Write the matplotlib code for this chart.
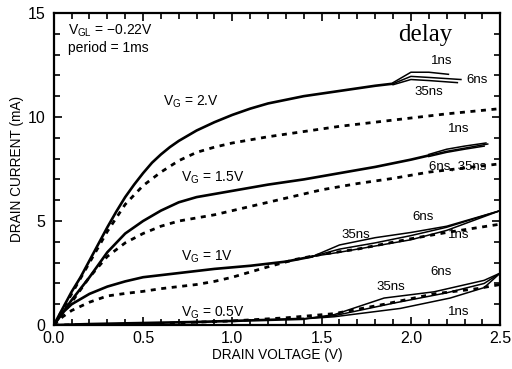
import matplotlib.pyplot as plt
from matplotlib.ticker import MultipleLocator

plt.rcParams['font.family'] = ['Liberation Sans', 'DejaVu Sans']
plt.rcParams['mathtext.default'] = 'regular'

# VG = 2 V, measured (common part, then the three delays)
vg2_v = [0, 0.05, 0.1, 0.15, 0.2, 0.25, 0.3, 0.35, 0.4, 0.45, 0.5, 0.55, 0.6, 0.65, 0.7, 0.75,
         0.8, 0.9, 1.0, 1.1, 1.2, 1.4, 1.6, 1.8, 1.9]
vg2_i = [0, 0.8, 1.6, 2.3, 3.1, 3.9, 4.7, 5.45, 6.15, 6.75, 7.3, 7.8, 8.2, 8.55, 8.85, 9.1,
         9.35, 9.75, 10.1, 10.4, 10.65, 11.0, 11.25, 11.5, 11.6]
vg2_tail_v = {'1ns': [1.9, 2.0, 2.1, 2.21],
              '6ns': [1.9, 2.0, 2.1, 2.28],
              '35ns': [1.9, 2.0, 2.1, 2.26]}
vg2_tail_i = {'1ns': [11.65, 12.15, 12.15, 12.05],
              '6ns': [11.6, 11.95, 11.9, 11.8],
              '35ns': [11.55, 11.8, 11.75, 11.65]}
vg2_dc_v = [0, 0.1, 0.2, 0.3, 0.4, 0.5, 0.6, 0.7, 0.8, 0.9, 1.0, 1.2, 1.4, 1.6, 1.8, 2.0, 2.2, 2.5]
vg2_dc_i = [0, 1.5, 3.0, 4.5, 5.8, 6.7, 7.35, 7.9, 8.3, 8.55, 8.75, 9.05, 9.3, 9.55, 9.75, 9.95, 10.15, 10.4]

# VG = 1.5 V
vg15_v = [0, 0.05, 0.1, 0.2, 0.3, 0.4, 0.5, 0.6, 0.7, 0.8, 0.9, 1.0, 1.2, 1.4, 1.6, 1.8, 2.0, 2.1]
vg15_i = [0, 0.6, 1.2, 2.3, 3.5, 4.4, 5.0, 5.5, 5.9, 6.15, 6.3, 6.45, 6.75, 7.0, 7.3, 7.6, 7.95, 8.15]
vg15_tail_v = {'1ns': [2.1, 2.2, 2.3, 2.42],
               '6ns': [2.1, 2.2, 2.3, 2.43],
               '35ns': [2.1, 2.2, 2.3, 2.41]}
vg15_tail_i = {'1ns': [8.2, 8.45, 8.6, 8.75],
               '6ns': [8.15, 8.35, 8.5, 8.7],
               '35ns': [8.1, 8.3, 8.45, 8.6]}
vg15_dc_v = [0, 0.1, 0.2, 0.3, 0.4, 0.5, 0.6, 0.7, 0.8, 0.9, 1.0, 1.1, 1.3, 1.5, 1.7, 1.9, 2.1, 2.3, 2.5]
vg15_dc_i = [0, 1.1, 2.3, 3.3, 3.95, 4.4, 4.75, 5.0, 5.15, 5.3, 5.5, 5.7, 6.1, 6.5, 6.8, 7.05, 7.35, 7.55, 7.75]

# VG = 1 V
vg1_v = [0, 0.05, 0.1, 0.2, 0.3, 0.4, 0.5, 0.7, 0.9, 1.1, 1.3, 1.45]
vg1_i = [0, 0.6, 1.0, 1.5, 1.85, 2.1, 2.3, 2.5, 2.7, 2.85, 3.05, 3.3]
vg1_tail_v = {'1ns': [1.45, 1.6, 1.8, 2.0, 2.2, 2.5],
              '6ns': [1.45, 1.6, 1.8, 2.0, 2.2, 2.5],
              '35ns': [1.45, 1.6, 1.8, 2.0, 2.2, 2.5]}
vg1_tail_i = {'1ns': [3.3, 3.5, 3.8, 4.1, 4.55, 5.5],
              '6ns': [3.3, 3.65, 3.95, 4.3, 4.7, 5.5],
              '35ns': [3.3, 3.85, 4.2, 4.45, 4.75, 5.5]}
vg1_dc_v = [0, 0.05, 0.1, 0.2, 0.3, 0.4, 0.5, 0.6, 0.7, 0.8, 0.9, 1.0, 1.1, 1.2, 1.35,
            1.5, 1.7, 1.85, 2.0, 2.2, 2.5]
vg1_dc_i = [0, 0.4, 0.7, 1.1, 1.4, 1.52, 1.62, 1.75, 1.85, 1.95, 2.1, 2.3, 2.55, 2.8, 3.15,
            3.4, 3.65, 3.9, 4.15, 4.45, 4.85]

# VG = 0.5 V
vg05_v = [0, 0.2, 0.5, 0.8, 1.0, 1.2, 1.4]
vg05_i = [0, 0.05, 0.1, 0.15, 0.2, 0.25, 0.3]
vg05_tail_v = {'1ns': [1.4, 1.57, 1.94, 2.22, 2.41, 2.5],
               '6ns': [1.4, 1.57, 1.9, 2.2, 2.41, 2.5],
               '35ns': [1.4, 1.57, 1.85, 2.13, 2.41, 2.5]}
vg05_tail_i = {'1ns': [0.3, 0.4, 0.8, 1.3, 1.8, 2.5],
               '6ns': [0.3, 0.45, 1.05, 1.55, 2.0, 2.5],
               '35ns': [0.3, 0.5, 1.3, 1.6, 2.15, 2.5]}
vg05_dc_v = [0, 0.5, 1.0, 1.3, 1.57, 1.85, 2.13, 2.37, 2.5]
vg05_dc_i = [0, 0.05, 0.2, 0.35, 0.55, 1.0, 1.5, 1.75, 1.95]

# delay labels: (text, V, mA)
delay_labels = [('1ns', 2.17, 12.7), ('6ns', 2.37, 11.8), ('35ns', 2.1, 11.2),
                ('1ns', 2.27, 9.4), ('6ns, 35ns', 2.26, 7.6),
                ('6ns', 2.07, 5.2), ('35ns', 1.69, 4.35), ('1ns', 2.27, 4.35),
                ('6ns', 2.17, 2.55), ('35ns', 1.89, 1.85), ('1ns', 2.27, 0.65)]
vg_labels = [('V$_G$ = 2.V', 0.61, 10.75), ('V$_G$ = 1.5V', 0.71, 7.1),
             ('V$_G$ = 1V', 0.71, 3.3), ('V$_G$ = 0.5V', 0.71, 0.6)]

fig = plt.figure(figsize=(5.12, 3.69), dpi=100)
ax = fig.add_axes([0.105, 0.119, 0.872, 0.846])

solid = dict(color='black', lw=1.9, solid_capstyle='round', solid_joinstyle='round')
dashed = dict(color='black', lw=2.0, linestyle=(0, (1.8, 2.0)))

for v, i, tv, ti in [(vg2_v, vg2_i, vg2_tail_v, vg2_tail_i),
                     (vg15_v, vg15_i, vg15_tail_v, vg15_tail_i),
                     (vg1_v, vg1_i, vg1_tail_v, vg1_tail_i),
                     (vg05_v, vg05_i, vg05_tail_v, vg05_tail_i)]:
    ax.plot(v, i, **solid)
    for k in tv:
        ax.plot(tv[k], ti[k], color='black', lw=1.1)

for v, i in [(vg2_dc_v, vg2_dc_i), (vg15_dc_v, vg15_dc_i),
             (vg1_dc_v, vg1_dc_i), (vg05_dc_v, vg05_dc_i)]:
    ax.plot(v, i, **dashed)

ax.set_xlim(0, 2.5)
ax.set_ylim(0, 15)
ax.xaxis.set_major_locator(MultipleLocator(0.5))
ax.xaxis.set_minor_locator(MultipleLocator(0.1))
ax.yaxis.set_major_locator(MultipleLocator(5))
ax.yaxis.set_minor_locator(MultipleLocator(1))
ax.tick_params(which='both', direction='in', top=True, right=True, labelsize=11.5, width=1.2)
ax.tick_params(which='major', length=6)
ax.tick_params(which='minor', length=4)
ax.xaxis.set_major_formatter(plt.FormatStrFormatter('%.1f'))
ax.tick_params(axis='x', pad=4)
ax.tick_params(axis='y', pad=6)
for s in ax.spines.values():
    s.set_linewidth(1.6)

ax.set_xlabel('DRAIN VOLTAGE (V)', fontsize=9.8, labelpad=2)
ax.set_ylabel('DRAIN CURRENT (mA)', fontsize=9.8, labelpad=3)

fs = 10
ax.text(0.08, 14.15, 'V$_{GL}$ = \u22120.22V', fontsize=fs, va='center')
ax.text(0.08, 13.3, 'period = 1ms', fontsize=fs, va='center')
ax.text(1.93, 13.95, 'delay', fontsize=18, family='Liberation Serif', va='center')
for t, x, y in vg_labels:
    ax.text(x, y, t, fontsize=10, va='center')
for t, x, y in delay_labels:
    ax.text(x, y, t, fontsize=9.5, ha='center', va='center')

fig.savefig('out.png', dpi=100)
